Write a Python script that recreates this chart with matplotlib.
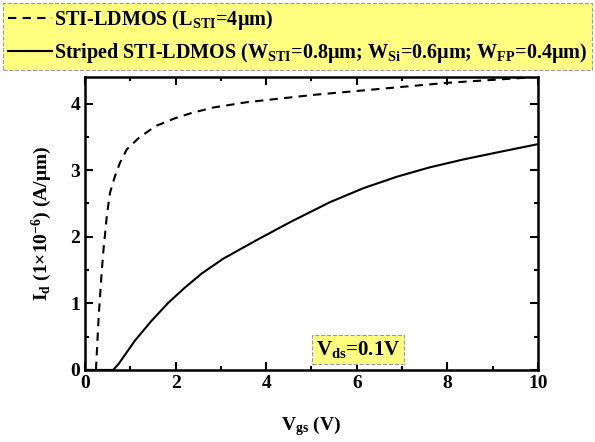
import matplotlib
matplotlib.use('Agg')
import matplotlib.pyplot as plt
from matplotlib.ticker import MultipleLocator

plt.rcParams['font.family'] = ['Liberation Serif', 'DejaVu Serif']
plt.rcParams['font.weight'] = 'bold'
plt.rcParams['mathtext.default'] = 'regular'

# data
vgs_sti = [0.24, 0.30, 0.36, 0.40, 0.48, 0.55, 0.66, 0.77, 0.92, 1.18, 1.55, 1.99,
           2.36, 2.83, 3.57, 5.04, 6.51, 7.98, 10.0]
id_sti = [0.0, 0.80, 1.40, 1.76, 2.31, 2.66, 2.91, 3.11, 3.31, 3.48, 3.66, 3.78,
          3.86, 3.94, 4.02, 4.13, 4.22, 4.31, 4.40]

vgs_striped = [0.0, 0.62, 0.74, 1.10, 1.47, 1.84, 2.21, 2.58, 3.05, 3.79, 4.53,
               5.41, 6.15, 6.88, 7.60, 8.35, 9.20, 10.0]
id_striped = [0.0, 0.0, 0.09, 0.44, 0.74, 1.01, 1.24, 1.45, 1.67, 1.95, 2.22,
              2.52, 2.73, 2.90, 3.04, 3.16, 3.28, 3.39]

label_sti = r'STI-LDMOS (L$_{STI}$=4μm)'
label_striped = r'Striped STI-LDMOS (W$_{STI}$=0.8μm; W$_{Si}$=0.6μm; W$_{FP}$=0.4μm)'

fig = plt.figure(figsize=(5.95, 4.42), dpi=100)
ax = fig.add_axes([0.143, 0.163, 0.761, 0.663])

ax.plot(vgs_sti, id_sti, 'k--', lw=1.5, dashes=(4, 3), label=label_sti)
ax.plot(vgs_striped, id_striped, 'k-', lw=1.5, label=label_striped)

ax.set_xlim(0, 10)
ax.set_ylim(0, 4.4)
ax.xaxis.set_major_locator(MultipleLocator(2))
ax.xaxis.set_minor_locator(MultipleLocator(1))
ax.yaxis.set_major_locator(MultipleLocator(1))
ax.yaxis.set_minor_locator(MultipleLocator(0.5))
ax.tick_params(which='both', direction='in', top=True, right=True, width=1.5,
               labelsize=14)
ax.tick_params(which='major', length=6)
ax.tick_params(which='minor', length=3)
for s in ax.spines.values():
    s.set_linewidth(1.8)

ax.set_xlabel(r'V$_{gs}$ (V)', fontsize=14, fontweight='bold', labelpad=16)
ax.set_ylabel(r'I$_d$ (1×10$^{-6}$) (A/μm)', fontsize=14, fontweight='bold', labelpad=12)

ax.text(6.03, 0.31, r'V$_{ds}$=0.1V', fontsize=15, fontweight='bold',
        ha='center', va='center',
        bbox=dict(boxstyle='square,pad=0.2', fc='#ffff80', ec='#999999', ls='--', lw=0.8))

leg = fig.legend(loc='upper left', bbox_to_anchor=(0.005, 0.842, 0.99, 0.151),
                 mode='expand', handlelength=2.2, handletextpad=0.1,
                 borderpad=0.25, borderaxespad=0.0, labelspacing=0.45,
                 fancybox=False, prop={'weight': 'bold', 'size': 14.5})
frame = leg.get_frame()
frame.set_facecolor('#ffff80')
frame.set_edgecolor('#999999')
frame.set_linestyle('--')
frame.set_linewidth(0.8)
frame.set_alpha(1)

fig.savefig('out.png', dpi=100)
